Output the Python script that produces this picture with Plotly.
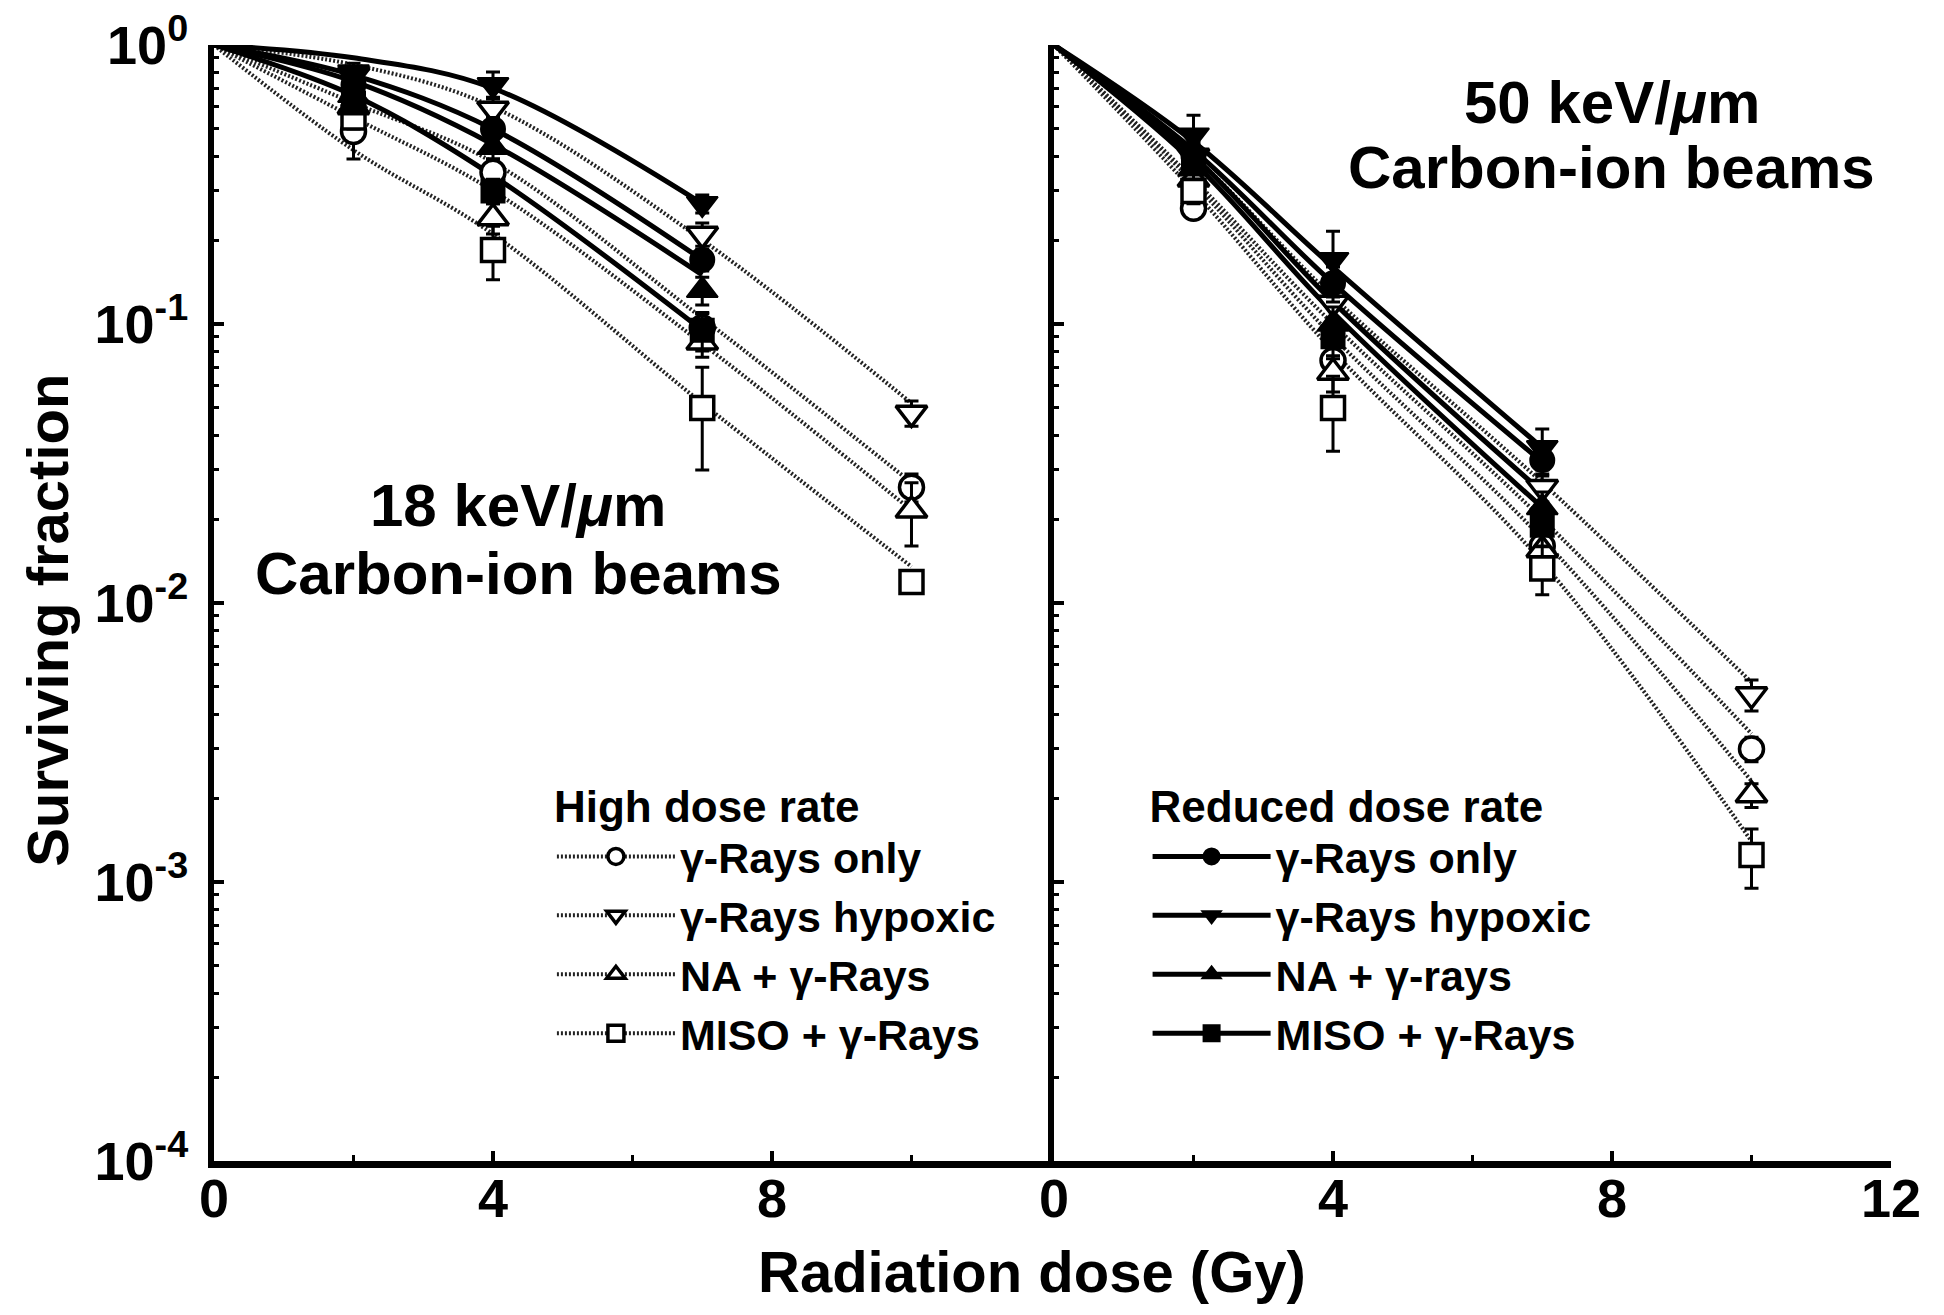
import plotly.graph_objects as go

# ---------------- data ----------------
dose_hdr = [2, 4, 7, 10]          # measured doses, high dose rate
dose_rdr = [2, 4, 7]              # measured doses, reduced dose rate
curve_dose_hdr = [0, 2, 4, 7, 10] # fitted-curve read-off doses
curve_dose_rdr = [0, 2, 4, 7]

names_hdr = ["γ-Rays only", "γ-Rays hypoxic", "NA + γ-Rays", "MISO + γ-Rays"]
names_rdr = ["γ-Rays only", "γ-Rays hypoxic", "NA + γ-rays", "MISO + γ-Rays"]
symbols = ["circle", "triangle-down", "triangle-up", "square"]

# 18 keV/um carbon-ion beams
p18_hdr_gamma = [0.49, 0.35, 0.097, 0.026]
p18_hdr_hypox = [0.78, 0.59, 0.21, 0.048]
p18_hdr_na    = [0.60, 0.24, 0.086, 0.0215]
p18_hdr_miso  = [0.55, 0.184, 0.050, 0.0119]
e18_hdr_gamma = [0.10, 0.04, 0.012, 0.003]
e18_hdr_hypox = [0.05, 0.06, 0.02, 0.005]
e18_hdr_na    = [0.05, 0.03, 0.01, 0.0055]
e18_hdr_miso  = [0.05, 0.04, 0.02, 0.001]

p18_rdr_gamma = [0.72, 0.50, 0.17]
p18_rdr_hypox = [0.80, 0.72, 0.27]
p18_rdr_na    = [0.66, 0.43, 0.132]
p18_rdr_miso  = [0.62, 0.30, 0.095]
e18_rdr_gamma = [0.05, 0.05, 0.015]
e18_rdr_hypox = [0.06, 0.08, 0.02]
e18_rdr_na    = [0.05, 0.04, 0.015]
e18_rdr_miso  = [0.05, 0.03, 0.015]

f18_hdr_gamma = [1.0, 0.62, 0.38, 0.105, 0.027]
f18_hdr_hypox = [1.0, 0.85, 0.60, 0.20, 0.052]
f18_hdr_na    = [1.0, 0.55, 0.30, 0.085, 0.0215]
f18_hdr_miso  = [1.0, 0.42, 0.21, 0.052, 0.0135]
f18_rdr_gamma = [1.0, 0.78, 0.50, 0.17]
f18_rdr_hypox = [1.0, 0.90, 0.70, 0.27]
f18_rdr_na    = [1.0, 0.74, 0.44, 0.15]
f18_rdr_miso  = [1.0, 0.66, 0.34, 0.095]

# 50 keV/um carbon-ion beams
p50_hdr_gamma = [0.26, 0.074, 0.016, 0.0030]
p50_hdr_hypox = [0.40, 0.119, 0.026, 0.0047]
p50_hdr_na    = [0.33, 0.067, 0.0155, 0.00205]
p50_hdr_miso  = [0.30, 0.050, 0.0133, 0.00125]
e50_hdr_gamma = [0.02, 0.01, 0.002, 0.0003]
e50_hdr_hypox = [0.05, 0.015, 0.003, 0.0006]
e50_hdr_na    = [0.03, 0.01, 0.002, 0.0002]
e50_hdr_miso  = [0.03, 0.015, 0.0026, 0.0003]

p50_rdr_gamma = [0.40, 0.14, 0.0325]
p50_rdr_hypox = [0.475, 0.17, 0.036]
p50_rdr_na    = [0.36, 0.10, 0.022]
p50_rdr_miso  = [0.38, 0.09, 0.019]
e50_rdr_gamma = [0.04, 0.02, 0.004]
e50_rdr_hypox = [0.085, 0.045, 0.006]
e50_rdr_na    = [0.03, 0.015, 0.003]
e50_rdr_miso  = [0.03, 0.015, 0.003]

f50_hdr_gamma = [1.0, 0.33, 0.10, 0.020, 0.0034]
f50_hdr_hypox = [1.0, 0.40, 0.125, 0.027, 0.0052]
f50_hdr_na    = [1.0, 0.32, 0.09, 0.017, 0.0023]
f50_hdr_miso  = [1.0, 0.30, 0.08, 0.014, 0.0014]
f50_rdr_gamma = [1.0, 0.42, 0.14, 0.032]
f50_rdr_hypox = [1.0, 0.45, 0.16, 0.036]
f50_rdr_na    = [1.0, 0.40, 0.12, 0.025]
f50_rdr_miso  = [1.0, 0.38, 0.11, 0.022]

ytick_vals = [1, 0.1, 0.01, 0.001, 0.0001]
ytick_text = ["10<sup>0</sup>", "10<sup>-1</sup>", "10<sup>-2</sup>",
              "10<sup>-3</sup>", "10<sup>-4</sup>"]
xtick_vals_left = [0, 4, 8]
xtick_text_left = ["0", "4", "8"]
xtick_vals_right = [0, 4, 8, 12]
xtick_text_right = ["0", "4", "8", "12"]

# ---------------- figure ----------------
FONT = "Liberation Sans, Arial, Helvetica, sans-serif"
fig = go.Figure()

panels = [
    ("x", "y",
     [f18_hdr_gamma, f18_hdr_hypox, f18_hdr_na, f18_hdr_miso],
     [f18_rdr_gamma, f18_rdr_hypox, f18_rdr_na, f18_rdr_miso],
     [p18_hdr_gamma, p18_hdr_hypox, p18_hdr_na, p18_hdr_miso],
     [e18_hdr_gamma, e18_hdr_hypox, e18_hdr_na, e18_hdr_miso],
     [p18_rdr_gamma, p18_rdr_hypox, p18_rdr_na, p18_rdr_miso],
     [e18_rdr_gamma, e18_rdr_hypox, e18_rdr_na, e18_rdr_miso]),
    ("x2", "y2",
     [f50_hdr_gamma, f50_hdr_hypox, f50_hdr_na, f50_hdr_miso],
     [f50_rdr_gamma, f50_rdr_hypox, f50_rdr_na, f50_rdr_miso],
     [p50_hdr_gamma, p50_hdr_hypox, p50_hdr_na, p50_hdr_miso],
     [e50_hdr_gamma, e50_hdr_hypox, e50_hdr_na, e50_hdr_miso],
     [p50_rdr_gamma, p50_rdr_hypox, p50_rdr_na, p50_rdr_miso],
     [e50_rdr_gamma, e50_rdr_hypox, e50_rdr_na, e50_rdr_miso]),
]

msize = {"circle": 24, "triangle-down": 27, "triangle-up": 27, "square": 23}

for xa, ya, fh, fr, ph, eh, pr, er in panels:
    for f in fh:
        fig.add_trace(go.Scatter(x=curve_dose_hdr, y=f, mode="lines", xaxis=xa, yaxis=ya,
                                 line=dict(color="#222222", width=4, dash="2px,2px", shape="spline"),
                                 showlegend=False, hoverinfo="skip"))
    for f in fr:
        fig.add_trace(go.Scatter(x=curve_dose_rdr, y=f, mode="lines", xaxis=xa, yaxis=ya,
                                 line=dict(color="black", width=5, shape="spline"),
                                 showlegend=False, hoverinfo="skip"))
    for p, e, s in zip(ph, eh, symbols):
        fig.add_trace(go.Scatter(x=dose_hdr, y=p, mode="markers", xaxis=xa, yaxis=ya,
                                 error_y=dict(type="data", array=e, color="black", thickness=3, width=7),
                                 marker=dict(symbol=s, size=msize[s], color="white",
                                             line=dict(color="black", width=3.5)),
                                 showlegend=False))
    for p, e, s in zip(pr, er, symbols):
        fig.add_trace(go.Scatter(x=dose_rdr, y=p, mode="markers", xaxis=xa, yaxis=ya,
                                 error_y=dict(type="data", array=e, color="black", thickness=3, width=7),
                                 marker=dict(symbol=s, size=msize[s], color="black",
                                             line=dict(color="black", width=2)),
                                 showlegend=False))

# legend entries
for n, s in zip(names_hdr, symbols):
    fig.add_trace(go.Scatter(x=[None], y=[None], mode="lines+markers", name=n, legend="legend",
                             line=dict(color="#222222", width=4, dash="2px,2px"),
                             marker=dict(symbol=s, size=16, color="white", line=dict(color="black", width=3.5))))
for n, s in zip(names_rdr, symbols):
    fig.add_trace(go.Scatter(x=[None], y=[None], mode="lines+markers", name=n, legend="legend2",
                             xaxis="x2", yaxis="y2",
                             line=dict(color="black", width=5),
                             marker=dict(symbol=s, size=16, color="black", line=dict(color="black", width=2))))

axis_common = dict(showline=True, linecolor="black", showgrid=False, zeroline=False,
                   ticks="inside", tickcolor="black", automargin=False)
tickfont = dict(family=FONT, size=54, color="black", weight="bold")

minor_y = [m * 10.0 ** e for e in range(-4, 0) for m in range(2, 10)]

fig.update_layout(
    width=1928, height=1299,
    margin=dict(l=206, r=45, t=37, b=146),
    paper_bgcolor="white", plot_bgcolor="white",
    font=dict(family=FONT, color="black"),
    xaxis=dict(domain=[0, 0.4991], range=[0, 12], anchor="y",
               tickmode="array", tickvals=xtick_vals_left, ticktext=xtick_text_left,
               ticklen=10, tickwidth=4, linewidth=7, tickfont=tickfont, ticklabelstandoff=-16,
               ticklabeloverflow="allow",
               minor=dict(tickvals=[2, 6, 10], ticks="inside", ticklen=6, tickwidth=3, tickcolor="black"),
               **axis_common),
    xaxis2=dict(domain=[0.5009, 1], range=[0, 12], anchor="y2",
                tickmode="array", tickvals=xtick_vals_right, ticktext=xtick_text_right,
                ticklen=10, tickwidth=4, linewidth=7, tickfont=tickfont, ticklabelstandoff=-16,
                ticklabeloverflow="allow",
                minor=dict(tickvals=[2, 6, 10], ticks="inside", ticklen=6, tickwidth=3, tickcolor="black"),
                **axis_common),
    yaxis=dict(type="log", range=[-4, 0], anchor="x",
               tickmode="array", tickvals=ytick_vals, ticktext=ytick_text,
               ticklen=10, tickwidth=4, linewidth=6, tickfont=tickfont, ticklabelstandoff=9,
               ticklabeloverflow="allow",
               minor=dict(tickvals=minor_y, ticks="inside", ticklen=5, tickwidth=3, tickcolor="black"),
               **axis_common),
    yaxis2=dict(type="log", range=[-4, 0], anchor="x2", matches="y",
                tickmode="array", tickvals=ytick_vals, showticklabels=False,
                ticklen=10, tickwidth=4, linewidth=6,
                minor=dict(tickvals=minor_y, ticks="inside", ticklen=5, tickwidth=3, tickcolor="black"),
                **axis_common),
    legend=dict(x=0.2015, y=0.355, xanchor="left", yanchor="top", bgcolor="rgba(0,0,0,0)",
                title=dict(text="High dose rate", font=dict(family=FONT, size=44, weight="bold")),
                font=dict(family=FONT, size=43, color="black", weight="bold"),
                itemwidth=118, tracegroupgap=0),
    legend2=dict(x=0.5567, y=0.355, xanchor="left", yanchor="top", bgcolor="rgba(0,0,0,0)",
                 title=dict(text="Reduced dose rate", font=dict(family=FONT, size=44, weight="bold")),
                 font=dict(family=FONT, size=43, color="black", weight="bold"),
                 itemwidth=118, tracegroupgap=0),
    showlegend=True,
)

ann_font = dict(family=FONT, size=60, color="black", weight="bold")
fig.add_annotation(text="18 keV/<i>μ</i>m", x=4.36, y=-1.652, xref="x", yref="y",
                   showarrow=False, font=ann_font, xanchor="center", yanchor="middle")
fig.add_annotation(text="Carbon-ion beams", x=4.37, y=-1.893, xref="x", yref="y", height=54,
                   showarrow=False, font=ann_font, xanchor="center", yanchor="middle")
fig.add_annotation(text="50 keV/<i>μ</i>m", x=8.0, y=-0.205, xref="x2", yref="y2",
                   showarrow=False, font=ann_font, xanchor="center", yanchor="middle")
fig.add_annotation(text="Carbon-ion beams", x=8.0, y=-0.437, xref="x2", yref="y2", height=54,
                   showarrow=False, font=ann_font, xanchor="center", yanchor="middle")

title_font = dict(family=FONT, size=58, color="black", weight="bold")
fig.add_annotation(text="Radiation dose (Gy)", x=0.488, y=-0.1299, xref="paper", yref="paper",
                   showarrow=False, font=title_font, xanchor="center", yanchor="bottom")
fig.add_annotation(text="Surviving fraction", x=-0.099, y=0.485, xref="paper", yref="paper",
                   textangle=-90, showarrow=False, font=title_font, xanchor="center", yanchor="middle")

fig.write_html("out.html")
